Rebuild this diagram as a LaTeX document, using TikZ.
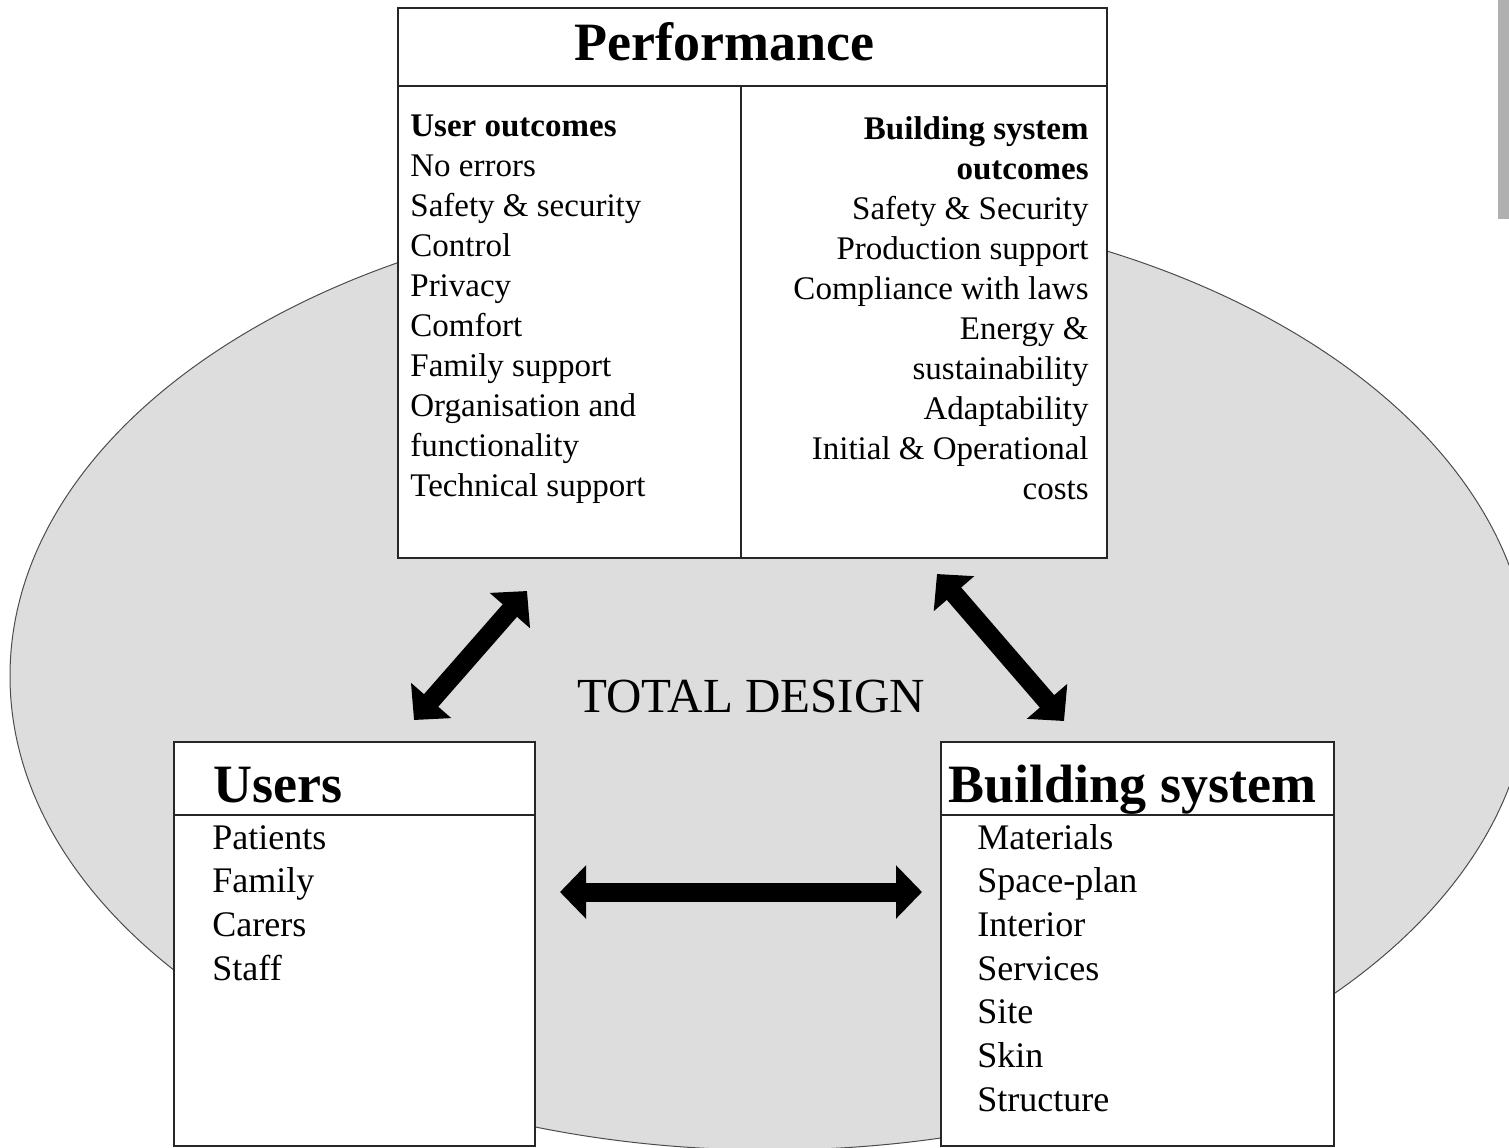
\documentclass[tikz,border=0pt]{standalone}
\usepackage{fontspec}
\setmainfont{Liberation Serif}
\usetikzlibrary{arrows.meta}
\definecolor{ellfill}{RGB}{221,221,221}
\definecolor{barfill}{RGB}{176,176,176}
\begin{document}
\begin{tikzpicture}[x=0.5pt,y=-0.5pt,
  box/.style={draw=black!85, line width=0.75pt, fill=white, inner sep=0pt, outer sep=0pt, anchor=north west},
  boxline/.style={draw=black!85, line width=0.75pt},
  ptxt/.style={inner sep=0pt, font=\fontsize{16.5pt}{20pt}\selectfont},
  ptxtb/.style={inner sep=0pt, font=\fontsize{16.5pt}{20pt}\selectfont\bfseries},
  ltxt/.style={inner sep=0pt, anchor=base west, font=\fontsize{18pt}{21.85pt}\selectfont},
  head/.style={inner sep=0pt, font=\fontsize{27pt}{32pt}\selectfont\bfseries},
  bigarrow/.style={line width=9.5pt, {Triangle[width=26pt,length=13pt]}-{Triangle[width=26pt,length=13pt]}}]
\useasboundingbox (0,0) rectangle (1509,1147);
\clip (0,0) rectangle (1509,1147);
% background
\fill[barfill] (1498,0) rectangle (1509,219);
\draw[fill=ellfill, draw=black!70, line width=0.5pt] (770,676) ellipse [x radius=380pt, y radius=237pt];
% boxes
\node[box, minimum width=354.5pt, minimum height=275pt] (perf) at (398,8) {};
\draw[boxline] (398,86) -- (1107,86);
\draw[boxline] (741,86) -- (741,558);
\node[box, minimum width=180.5pt, minimum height=202pt] (users) at (174,742) {};
\draw[boxline] (174,815) -- (535,815);
\node[box, minimum width=196.5pt, minimum height=202pt] (bsys) at (941,742) {};
\draw[boxline] (941,815) -- (1334,815);
% headers
\node[head, anchor=base] (perfh) at (724.5,60) {Performance};
\node[head, anchor=base west] (usersh) at (213,802) {Users};
\node[head, anchor=base west] (bsysh) at (948,802) {Building system};
% performance columns
\node[ptxtb, anchor=base west] (uo0) at (410,136) {User outcomes};
\foreach \t [count=\i] in {No errors, Safety \& security, Control, Privacy, Comfort, Family support, Organisation and, functionality, Technical support}
  \node[ptxt, anchor=base west] (uo\i) at (410,{136+40*\i}) {\t};
\node[ptxtb, anchor=base east] (bo0) at (1089,139) {Building system};
\node[ptxtb, anchor=base east] (bo00) at (1089,179) {outcomes};
\foreach \t [count=\i] in {Safety \& Security, Production support, Compliance with laws, Energy \&, sustainability, Adaptability, Initial \& Operational, costs}
  \node[ptxt, anchor=base east] (bo\i) at (1089,{179+40*\i}) {\t};
% lists
\foreach \t [count=\i] in {Patients, Family, Carers, Staff}
  \node[ltxt] (ul\i) at (212,{805.3+43.7*\i}) {\t};
\foreach \t [count=\i] in {Materials, Space-plan, Interior, Services, Site, Skin, Structure}
  \node[ltxt] (bl\i) at (977,{805.3+43.7*\i}) {\t};
% centre label
\node[inner sep=0pt, anchor=base west, font=\fontsize{24.5pt}{29pt}\selectfont] (total) at (577,712) {TOTAL DESIGN};
% arrows
\coordinate (a1a) at (414,720);
\coordinate (a1b) at (527,591);
\coordinate (a2a) at (937,574);
\coordinate (a2b) at (1064,721);
\coordinate (a3a) at (560,892);
\coordinate (a3b) at (922,892);
\draw[bigarrow] (a1a) -- (a1b);
\draw[bigarrow] (a2a) -- (a2b);
\draw[bigarrow] (a3a) -- (a3b);
\end{tikzpicture}
\end{document}
